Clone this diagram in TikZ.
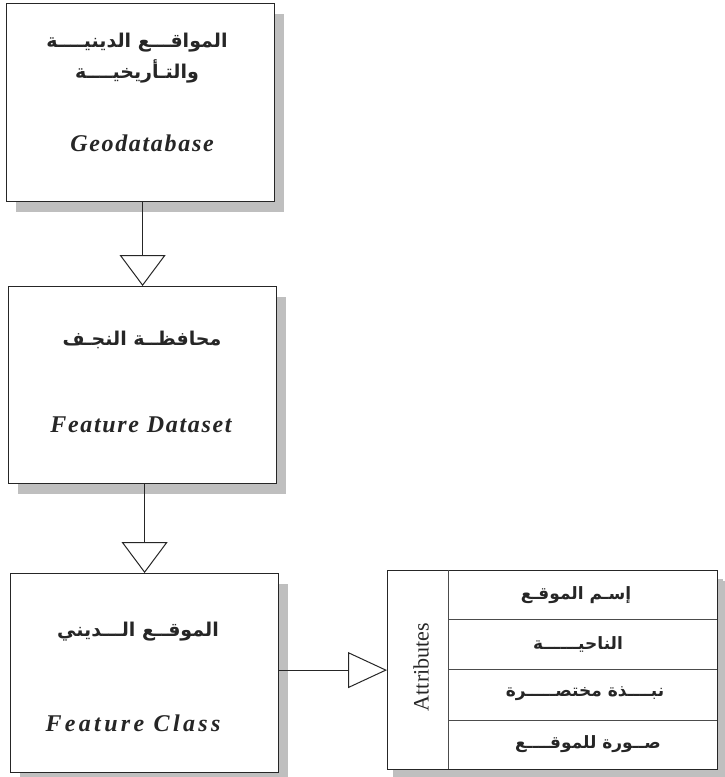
\documentclass[tikz,border=0pt]{standalone}
\usepackage{fontspec}
\setmainfont{Liberation Serif}
\newfontfamily\arabicfont[Script=Arabic]{DejaVu Sans}
\newfontfamily\latfont[LetterSpace=7]{Liberation Serif}
\newfontfamily\latwide[LetterSpace=14]{Liberation Serif}
\TeXXeTstate=1
\usetikzlibrary{arrows.meta,shadows}
\begin{document}
\begin{tikzpicture}[x=1pt,y=-1pt,
  box/.style={draw=black!85, line width=1.2pt, fill=white, inner sep=0pt, anchor=north west,
    drop shadow={shadow xshift=9pt, shadow yshift=-10pt, fill=black!25, opacity=1}},
  ar/.style={font=\arabicfont\bfseries\fontsize{19}{22}\selectfont, inner sep=0pt, text=black!85},
  arrow/.style={font=\arabicfont\bfseries\fontsize{17}{20}\selectfont, inner sep=0pt, text=black!85},
  lt/.style={font=\latfont\bfseries\itshape\fontsize{24}{28}\selectfont, inner sep=0pt, text=black!85},
  ltw/.style={font=\latwide\bfseries\itshape\fontsize{24}{28}\selectfont, inner sep=0pt, text=black!85},
  conn/.style={draw=black!85, line width=1pt},
  vtri/.style={conn, -{Triangle[open, length=31pt, width=46pt, line width=1pt]}},
  htri/.style={conn, -{Triangle[open, length=39pt, width=36pt, line width=1pt]}},
  sep/.style={draw=black!70, line width=0.6pt}
]
\fill[white] (0,0) rectangle (724,777);
\useasboundingbox (0,0) rectangle (724,777);

% boxes
\node[box, minimum width=268pt, minimum height=198pt] (b1) at (6,3) {};
\node[box, minimum width=268pt, minimum height=197pt] (b2) at (8,286) {};
\node[box, minimum width=268pt, minimum height=199pt] (b3) at (10,573) {};
\node[box, minimum width=330pt, minimum height=199pt,
  drop shadow={shadow xshift=5pt, shadow yshift=-8pt, fill=black!25, opacity=1}] (attr) at (387,570) {};

% texts in box 1
\node[ar] (t1a) at (137,43) {\beginR المواقـــع الدينيــــة\endR};
\node[ar] (t1b) at (137,71) {\beginR والتـأريخيــــة\endR};
\node[lt] (t1c) at (142,143) {Geodatabase};

% texts in box 2
\node[ar] (t2a) at (142,340) {\beginR محافظــة النجـف\endR};
\node[lt] (t2b) at (141,425) {Feature Dataset};

% texts in box 3
\node[ar] (t3a) at (138,632) {\beginR الموقــع الـــديني\endR};
\node[ltw] (t3b) at (133,723) {Feature Class};

% connectors
\draw[vtri] (b1.south -| b2.north) -- (b2.north);
\draw[vtri] (b2.south -| b3.north) -- (b3.north);
\draw[htri] (b3.east |- attr.west) -- (attr.west);

% attributes table
\draw[sep, line width=1pt] (448,570) -- (448,769);
\draw[sep] (448,619) -- (717,619);
\draw[sep] (448,669) -- (717,669);
\draw[sep] (448,720) -- (717,720);
\node[rotate=90, font=\fontsize{22}{26}\selectfont, inner sep=0pt, text=black!85] (attrlbl) at (421,667) {Attributes};
\node[arrow] (r1) at (576,595) {\beginR إسـم الموقـع\endR};
\node[arrow] (r2) at (578,644) {\beginR الناحيــــــة\endR};
\node[arrow] (r3) at (585,694) {\beginR نبــــذة مختصـــــرة\endR};
\node[arrow] (r4) at (588,744) {\beginR صــورة للموقــــع\endR};
\end{tikzpicture}
\end{document}
